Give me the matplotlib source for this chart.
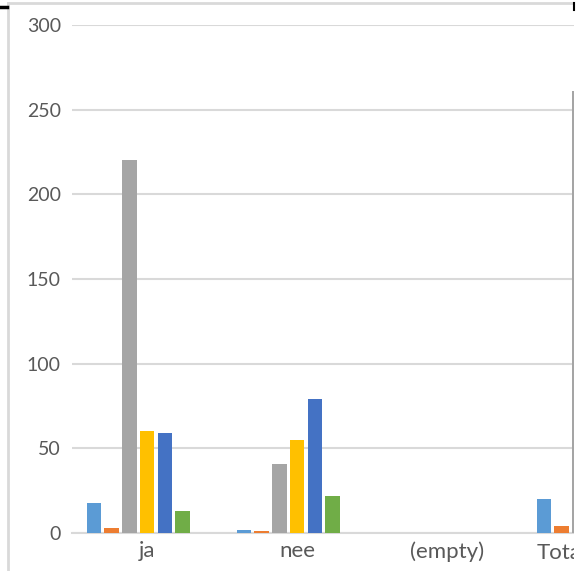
import matplotlib.pyplot as plt
from matplotlib.patches import Rectangle
from matplotlib.lines import Line2D
import numpy as np


categories = ["ja", "nee", "(empty)", "Total"]

# one list per series, values per category
serie_1 = [18, 2, 0, 20]
serie_2 = [3, 1, 0, 4]
serie_3 = [220, 41, 0, 261]
serie_4 = [60, 55, 0, 115]
serie_5 = [59, 79, 0, 138]
serie_6 = [13, 22, 0, 35]
serie_7 = [0, 0, 0, 0]

y_ticks = [0, 50, 100, 150, 200, 250, 300]

COLORS = ["#5B9BD5", "#ED7D31", "#A5A5A5", "#FFC000", "#4472C4", "#70AD47", "#264478"]
TEXT = "#595959"
GRID = "#D9D9D9"


def main():
    plt.rcParams["font.family"] = ["Lato", "DejaVu Sans"]
    fig = plt.figure(figsize=(5.79, 5.71), dpi=100)
    W, H = 579, 571

    # axes runs past the right edge, the picture is a crop
    ax = fig.add_axes([72 / W, (H - 533) / H, 600 / W, 508 / H])

    series = [serie_1, serie_2, serie_3, serie_4, serie_5, serie_6, serie_7]
    x = np.arange(len(categories))
    pitch = 0.118
    width = 0.096
    for i, vals in enumerate(series):
        ax.bar(x + (i - 3) * pitch, vals, width, color=COLORS[i], zorder=3)

    ax.set_xlim(-0.5, 3.5)
    ax.set_ylim(0, 300)
    ax.set_yticks(y_ticks)
    ax.set_xticks(x[:-1])
    ax.set_xticklabels(categories[:-1])
    ax.yaxis.grid(True, color=GRID, linewidth=1.5, zorder=0)
    ax.set_axisbelow(True)
    for side in ["top", "right", "left"]:
        ax.spines[side].set_visible(False)
    ax.spines["bottom"].set_color(GRID)
    ax.spines["bottom"].set_linewidth(1.5)
    ax.tick_params(axis="both", length=0, labelcolor=TEXT)
    ax.tick_params(axis="y", pad=8, labelsize=14)
    ax.tick_params(axis="x", pad=6, labelsize=16)

    # Excel keeps the last label inside the chart area
    fig.text(537 / W, 1 - 553 / H, categories[-1], ha="left", va="center",
             fontsize=16, color=TEXT, zorder=5)

    # crop edge and chart border
    fig.patches.append(Rectangle((574 / W, 0), 5 / W, 1, transform=fig.transFigure,
                                 facecolor="white", edgecolor="none", zorder=10))
    fig.lines.append(Line2D([8 / W, 8 / W], [0, 1 - 3 / H], transform=fig.transFigure,
                            color=GRID, linewidth=2, zorder=11))
    fig.lines.append(Line2D([8 / W, 573 / W], [1 - 3 / H, 1 - 3 / H], transform=fig.transFigure,
                            color=GRID, linewidth=2, zorder=11))
    fig.lines.append(Line2D([0, 7 / W], [1 - 6.5 / H, 1 - 6.5 / H], transform=fig.transFigure,
                            color="black", linewidth=2.5, zorder=11))
    fig.lines.append(Line2D([574 / W, 574 / W], [1 - 10 / H, 1 - 3 / H], transform=fig.transFigure,
                            color="black", linewidth=1.5, zorder=11))

    fig.savefig("out.png", dpi=100)


if __name__ == '__main__':
    main()
